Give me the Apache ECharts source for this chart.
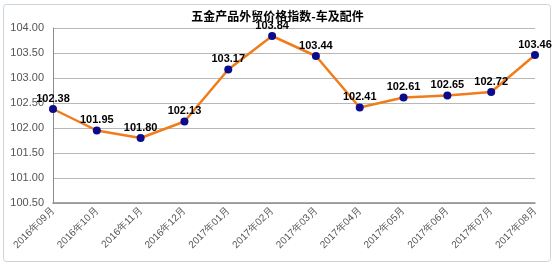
<!DOCTYPE html>
<html><head><meta charset="utf-8">
<script src="https://cdn.jsdelivr.net/npm/echarts@6/dist/echarts.min.js"></script>
<style>html,body{margin:0;padding:0;background:#fff}#c{width:555px;height:272px}</style>
</head><body><div id="c"></div>
<script>
const categories = ['2016年09月','2016年10月','2016年11月','2016年12月','2017年01月','2017年02月','2017年03月','2017年04月','2017年05月','2017年06月','2017年07月','2017年08月'];
const values = [102.38,101.95,101.80,102.13,103.17,103.84,103.44,102.41,102.61,102.65,102.72,103.46];
const yTicks = [100.5,101,101.5,102,102.5,103,103.5,104];
const title = '五金产品外贸价格指数-车及配件';

const chart = echarts.init(document.getElementById('c'), null, {renderer:'canvas'});
chart.setOption({
  animation:false,
  title:{text:title,left:'center',top:10,padding:0,textStyle:{fontFamily:'Noto Sans CJK SC',fontSize:12,fontWeight:'bold',color:'#000',lineHeight:13}},
  graphic:[{type:'rect',shape:{x:3.5,y:4.5,width:547,height:257,r:3},style:{fill:'none',stroke:'#c9d3dc',lineWidth:1},silent:true}],
  grid:{left:53,right:20,top:28,bottom:69},
  xAxis:{type:'category',data:categories,boundaryGap:false,
    axisLine:{lineStyle:{color:'#8c8c8c',width:1.5}},axisTick:{show:false},
    axisLabel:{rotate:45,color:'#555',fontFamily:'Liberation Sans',fontSize:10,margin:6,interval:0}},
  yAxis:{type:'value',min:100.5,max:104,interval:0.5,
    axisLine:{show:true,lineStyle:{color:'#8c8c8c'}},axisTick:{show:false},
    splitLine:{lineStyle:{color:'#b8b8b8'}},
    axisLabel:{color:'#555',fontFamily:'Liberation Sans',fontSize:11,margin:9,formatter:v=>v.toFixed(2)}},
  series:[{type:'line',data:values,smooth:false,
    lineStyle:{color:'#f07c1c',width:2.5},
    itemStyle:{color:'#0b0b8c'},symbol:'circle',symbolSize:8,
    label:{show:true,position:'top',distance:1,color:'#000',fontWeight:'bold',fontFamily:'Liberation Sans',fontSize:11,formatter:p=>p.value.toFixed(2)}}]
});
</script></body></html>
